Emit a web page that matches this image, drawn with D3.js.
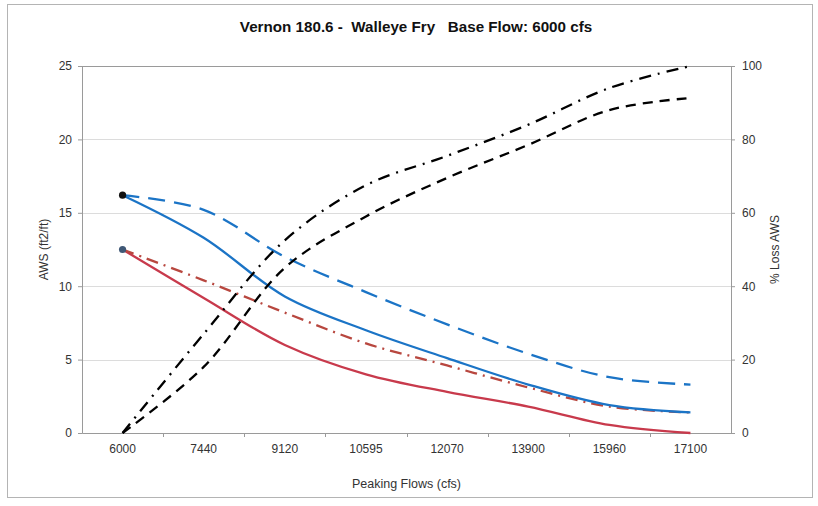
<!DOCTYPE html>
<html>
<head>
<meta charset="utf-8">
<script src="https://cdn.jsdelivr.net/npm/d3@7"></script>
<style>
  body { margin: 0; background: #fff; }
  svg { font-family: "Liberation Sans", Arial, sans-serif; }
</style>
</head>
<body>
<svg id="chart"></svg>
<script>

// Categories (peaking flows, cfs)
const flows = ["6000", "7440", "9120", "10595", "12070", "13900", "15960", "17100"]

// AWS series (left axis, ft2/ft)
const awsBlueSolid = [16.2, 13.3, 9.3, 7.0, 5.1, 3.3, 1.9, 1.4]
const awsBlueDash = [16.2, 15.2, 12.0, 9.6, 7.4, 5.4, 3.8, 3.3]
const awsRedSolid = [12.5, 9.2, 6.0, 4.0, 2.8, 1.8, 0.55, 0]
const awsRedDashDot = [12.5, 10.4, 8.2, 6.1, 4.6, 3.1, 1.8, 1.4]

// % loss series (right axis)
const lossDashDot = [0, 27, 52.5, 67.5, 75.5, 84, 94, 100]
const lossDash = [0, 18, 45, 59, 69.5, 78.5, 88, 91.3]

// Tick labels
const leftTicks = [0, 5, 10, 15, 20, 25]
const rightTicks = [0, 20, 40, 60, 80, 100]

const w = 818
const h = 506
const margin = {top: 66, right: 87, bottom: 73, left: 82}

const svg = d3.select("#chart")
    .attr("width", w)
    .attr("height", h)

// outer chart border
svg.append("rect")
    .attr("x", 7.5).attr("y", 4.5)
    .attr("width", 805).attr("height", 493)
    .attr("fill", "#fff")
    .attr("stroke", "#b4b4b4")

const x = d3.scaleBand()
    .domain(flows)
    .range([margin.left, w - margin.right])
    .padding(0)

const yL = d3.scaleLinear()
    .domain([0, 25])
    .range([h - margin.bottom, margin.top])

const yR = d3.scaleLinear()
    .domain([0, 100])
    .range([h - margin.bottom, margin.top])

const cx = d => x(d) + x.bandwidth() / 2

// gridlines
svg.append("g")
    .selectAll("line")
    .data(leftTicks.slice(1, -1))
    .enter()
    .append("line")
    .attr("x1", margin.left)
    .attr("x2", w - margin.right)
    .attr("y1", d => Math.round(yL(d)) + 0.5)
    .attr("y2", d => Math.round(yL(d)) + 0.5)
    .attr("stroke", "#dcdcdc")

// top border of plot area
svg.append("line")
    .attr("x1", margin.left).attr("x2", w - margin.right)
    .attr("y1", Math.round(yL(25)) + 0.5).attr("y2", Math.round(yL(25)) + 0.5)
    .attr("stroke", "#9a9a9a")

// axes
const axisLeft = d3.axisLeft(yL).tickValues(leftTicks).tickSize(4).tickPadding(6)
const axisRight = d3.axisRight(yR).tickValues(rightTicks).tickSize(4).tickPadding(7)
const axisBottom = d3.axisBottom(x).tickSize(0).tickPadding(11)

const gL = svg.append("g")
    .attr("transform", `translate(${margin.left}, 0)`)
    .call(axisLeft)

const gR = svg.append("g")
    .attr("transform", `translate(${w - margin.right}, 0)`)
    .call(axisRight)

const gB = svg.append("g")
    .attr("transform", `translate(0, ${h - margin.bottom})`)
    .call(axisBottom)

// category boundary ticks
gB.selectAll(".bound")
    .data(flows.slice(1))
    .enter()
    .append("line")
    .attr("class", "bound")
    .attr("x1", d => Math.round(x(d)) + 0.5)
    .attr("x2", d => Math.round(x(d)) + 0.5)
    .attr("y1", 0).attr("y2", 4)
    .attr("stroke", "#9a9a9a")

for (const g of [gL, gR, gB]) {
    g.select(".domain").attr("stroke", "#9a9a9a")
    g.selectAll(".tick line").attr("stroke", "#9a9a9a")
    g.selectAll("text")
        .attr("font-size", 12)
        .attr("fill", "#333")
        .attr("font-family", "Liberation Sans, Arial, sans-serif")
}

// lines
const lineL = d3.line()
    .x((d, i) => cx(flows[i]))
    .y(d => yL(d))
    .curve(d3.curveCatmullRom.alpha(0.5))

const lineR = d3.line()
    .x((d, i) => cx(flows[i]))
    .y(d => yR(d))
    .curve(d3.curveCatmullRom.alpha(0.5))

const series = [
    {data: awsRedSolid, gen: lineL, color: "#c83a4c", dash: null},
    {data: awsRedDashDot, gen: lineL, color: "#b8473f", dash: "12,6,2,6"},
    {data: awsBlueSolid, gen: lineL, color: "#1b74c6", dash: null},
    {data: awsBlueDash, gen: lineL, color: "#1b74c6", dash: "17,9"},
    {data: lossDashDot, gen: lineR, color: "#000", dash: "12,7,2,7"},
    {data: lossDash, gen: lineR, color: "#000", dash: "10,7"}
]

svg.append("g")
    .selectAll("path")
    .data(series)
    .enter()
    .append("path")
    .attr("d", d => d.gen(d.data))
    .attr("fill", "none")
    .attr("stroke", d => d.color)
    .attr("stroke-width", 2.3)
    .attr("stroke-dasharray", d => d.dash)

// start markers
svg.append("circle")
    .attr("cx", cx(flows[0])).attr("cy", yL(awsBlueSolid[0]))
    .attr("r", 3.6).attr("fill", "#111")

svg.append("circle")
    .attr("cx", cx(flows[0])).attr("cy", yL(awsRedSolid[0]))
    .attr("r", 3.6).attr("fill", "#3f5876")

// title and axis labels
svg.append("text")
    .attr("x", 416).attr("y", 32)
    .attr("text-anchor", "middle")
    .attr("font-size", 15.2)
    .attr("font-weight", "bold")
    .attr("fill", "#111")
    .style("white-space", "pre")
    .text("Vernon 180.6 -  Walleye Fry   Base Flow: 6000 cfs")

svg.append("text")
    .attr("transform", `translate(48, ${(margin.top + h - margin.bottom) / 2}) rotate(-90)`)
    .attr("text-anchor", "middle")
    .attr("font-size", 12)
    .attr("fill", "#333")
    .text("AWS (ft2/ft)")

svg.append("text")
    .attr("transform", `translate(779, ${(margin.top + h - margin.bottom) / 2}) rotate(-90)`)
    .attr("text-anchor", "middle")
    .attr("font-size", 12)
    .attr("fill", "#333")
    .text("% Loss AWS")

svg.append("text")
    .attr("x", (margin.left + w - margin.right) / 2)
    .attr("y", 488)
    .attr("text-anchor", "middle")
    .attr("font-size", 12.5)
    .attr("fill", "#333")
    .text("Peaking Flows (cfs)")

</script>
</body>
</html>
